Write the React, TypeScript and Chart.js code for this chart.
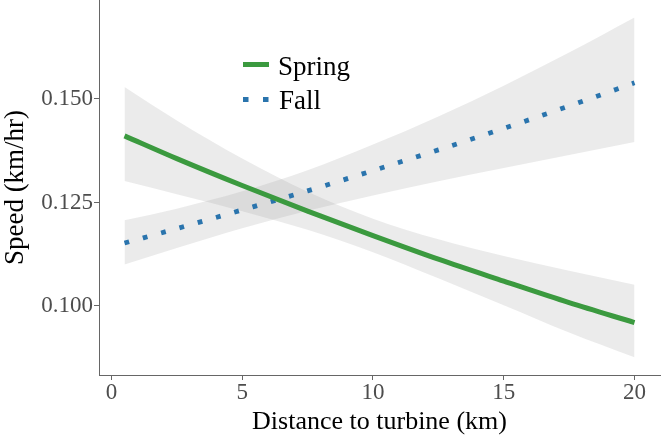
import React, { useEffect, useRef } from "react";
import { Chart, registerables } from "chart.js";

Chart.register(...registerables);

const distances = [0.5, 2.5, 5, 7.5, 10, 12.5, 15, 17.5, 20];
const springFit = [0.1411, 0.1356, 0.1291, 0.1229, 0.117, 0.1113, 0.106, 0.1008, 0.096];
const springUpper = [0.1529, 0.1448, 0.1356, 0.1276, 0.1211, 0.1161, 0.1121, 0.1085, 0.1051];
const springLower = [0.1302, 0.127, 0.1229, 0.1184, 0.113, 0.1067, 0.1002, 0.0936, 0.0876];
const fallFit = [0.1152, 0.1187, 0.1232, 0.1278, 0.1327, 0.1377, 0.1429, 0.1483, 0.1539];
const fallUpper = [0.1207, 0.1235, 0.1277, 0.1328, 0.139, 0.1458, 0.1532, 0.1612, 0.1697];
const fallLower = [0.11, 0.114, 0.1188, 0.123, 0.1267, 0.1301, 0.1333, 0.1365, 0.1396];
const xTicks = [0, 5, 10, 15, 20];
const yTicks = [0.1, 0.125, 0.15];
const seriesNames = ["Spring", "Fall"];

const SPRING = "#3b9a3f";
const FALL = "#2a74ad";
const BAND = "rgba(153,153,153,0.2)";
const AXIS = "#666666";
const TICKTXT = "#4d4d4d";
const FONT = "'Liberation Serif', 'Times New Roman', serif";

const pts = (ys: number[]) => distances.map((x, i) => ({ x, y: ys[i] }));

const legendPlugin = {
  id: "insideLegend",
  afterDraw(chart: any) {
    const ctx = chart.ctx;
    ctx.save();
    ctx.lineCap = "butt";
    ctx.strokeStyle = SPRING;
    ctx.lineWidth = 5;
    ctx.setLineDash([]);
    ctx.beginPath();
    ctx.moveTo(243, 64.5);
    ctx.lineTo(269, 64.5);
    ctx.stroke();
    ctx.strokeStyle = FALL;
    ctx.setLineDash([5.5, 14.5]);
    ctx.beginPath();
    ctx.moveTo(243, 99.5);
    ctx.lineTo(270, 99.5);
    ctx.stroke();
    ctx.setLineDash([]);
    ctx.fillStyle = "#000";
    ctx.font = `27px ${FONT}`;
    ctx.textBaseline = "alphabetic";
    ctx.textAlign = "left";
    ctx.fillText(seriesNames[0], 278, 75);
    ctx.fillText(seriesNames[1], 279, 108.5);
    ctx.restore();
  },
};

export default function App() {
  const ref = useRef<HTMLCanvasElement | null>(null);
  useEffect(() => {
    if (!ref.current) return;
    const band = (ys: number[], fill: any, label: string) => ({
      label,
      data: pts(ys),
      borderWidth: 0,
      borderColor: "rgba(0,0,0,0)",
      backgroundColor: BAND,
      pointRadius: 0,
      fill,
      order: 1,
      cubicInterpolationMode: "monotone",
    });
    const chart = new Chart(ref.current, {
      type: "line",
      data: {
        datasets: [
          {
            label: seriesNames[0],
            data: pts(springFit),
            borderColor: SPRING,
            borderWidth: 5,
            pointRadius: 0,
            fill: false,
            order: 0,
            cubicInterpolationMode: "monotone",
          },
          {
            label: seriesNames[1],
            data: pts(fallFit),
            borderColor: FALL,
            borderWidth: 4.8,
            borderDash: [4.8, 14.2],
            borderCapStyle: "butt",
            pointRadius: 0,
            fill: false,
            order: 0,
            cubicInterpolationMode: "monotone",
          },
          band(springUpper, 3, "spring upper"),
          band(springLower, false, "spring lower"),
          band(fallUpper, 5, "fall upper"),
          band(fallLower, false, "fall lower"),
        ] as any,
      },
      options: {
        animation: false,
        responsive: false,
        maintainAspectRatio: false,
        layout: { padding: { left: 0, right: 1, top: 0, bottom: 0 } },
        plugins: {
          legend: { display: false },
          tooltip: { enabled: false },
        },
        scales: {
          x: {
            type: "linear",
            min: -0.475,
            max: 20.975,
            afterBuildTicks: (s: any) => {
              s.ticks = xTicks.map((v) => ({ value: v }));
            },
            afterFit: (s: any) => {
              s.height = 63;
              s.paddingLeft = 0;
              s.paddingRight = 0;
            },
            grid: { drawOnChartArea: false, drawTicks: true, tickLength: 5, color: AXIS },
            border: { display: true, color: AXIS, width: 1 },
            ticks: {
              color: TICKTXT,
              font: { family: FONT, size: 23, lineHeight: 1 },
              padding: 1,
              maxRotation: 0,
              callback: (v: any) => String(v),
            },
            title: {
              display: true,
              text: "Distance to turbine (km)",
              color: "#000",
              font: { family: FONT, size: 26, lineHeight: 1.2 },
              padding: 0,
            },
          },
          y: {
            type: "linear",
            min: 0.08333,
            max: 0.17391,
            afterBuildTicks: (s: any) => {
              s.ticks = yTicks.map((v) => ({ value: v }));
            },
            afterFit: (s: any) => {
              s.width = 99;
              s.paddingTop = 0;
              s.paddingBottom = 0;
            },
            grid: { drawOnChartArea: false, drawTicks: true, tickLength: 5, color: AXIS },
            border: { display: true, color: AXIS, width: 1 },
            ticks: {
              color: TICKTXT,
              font: { family: FONT, size: 23 },
              padding: 1,
              callback: (v: any) => Number(v).toFixed(3),
            },
            title: {
              display: true,
              text: "Speed (km/hr)",
              color: "#000",
              font: { family: FONT, size: 27, lineHeight: 1.2 },
              padding: 0,
            },
          },
        },
      },
      plugins: [legendPlugin],
    });
    return () => chart.destroy();
  }, []);
  return (
    <div style={{ position: "fixed", left: 0, top: 0, width: 661, height: 438, background: "#fff" }}>
      <canvas ref={ref} width={661} height={438} style={{ display: "block" }} />
    </div>
  );
}
